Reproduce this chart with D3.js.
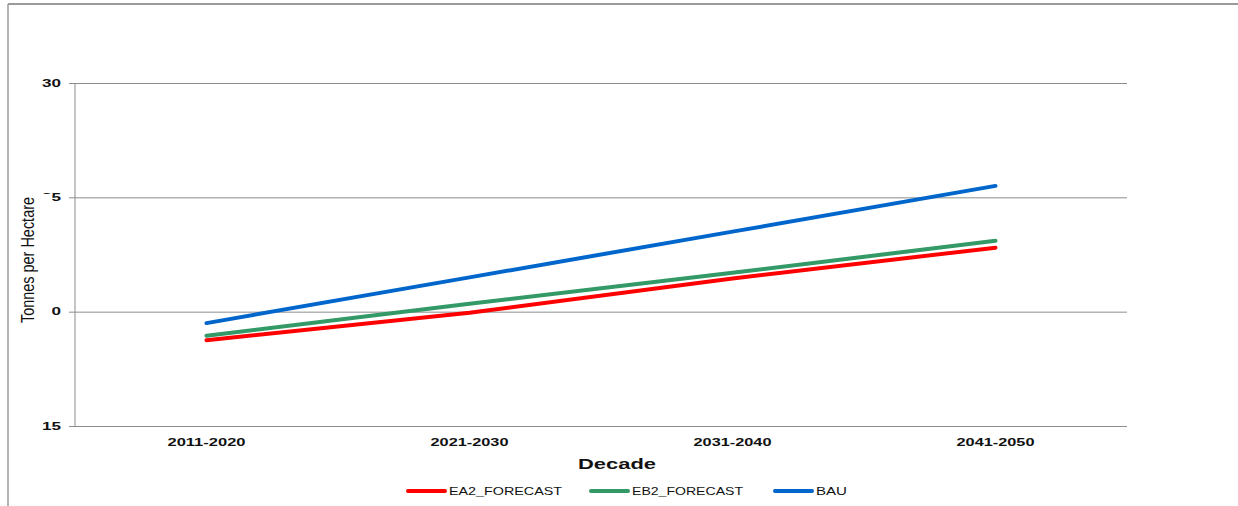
<!DOCTYPE html>
<html>
<head>
<meta charset="utf-8">
<script src="https://cdn.jsdelivr.net/npm/d3@7"></script>
<style>
  html, body { margin: 0; padding: 0; background: #fff; }
  svg { display: block; font-family: "Liberation Sans", Arial, sans-serif; }
</style>
</head>
<body>
<svg id="chart" width="1238" height="506"></svg>
<script>
// Decades on the x axis
const decades = ["2011-2020", "2021-2030", "2031-2040", "2041-2050"];
// Yield forecasts, tonnes per hectare
const ea2Forecast = [18.75, 19.95, 21.45, 22.8];
const eb2Forecast = [18.95, 20.35, 21.7, 23.1];
const bau = [19.5, 21.5, 23.5, 25.5];
// Y axis ticks
const yTicks = [15, 20, 25, 30];

const seriesNames = ["EA2_FORECAST", "EB2_FORECAST", "BAU"];
const seriesValues = [ea2Forecast, eb2Forecast, bau];
const seriesColors = ["#ff0000", "#339966", "#0066cc"];

const svg = d3.select("#chart");
const plot = { left: 75, right: 1127, top: 83, bottom: 426 };

// Outer frame (top and left edges only)
svg.append("line").attr("x1", 8).attr("x2", 1238).attr("y1", 4).attr("y2", 4)
  .attr("stroke", "#9a9a9a").attr("stroke-width", 2);
svg.append("line").attr("x1", 8).attr("x2", 8).attr("y1", 4).attr("y2", 506)
  .attr("stroke", "#9a9a9a").attr("stroke-width", 1.5);

const x = d3.scaleBand().domain(decades).range([plot.left, plot.right]);
const y = d3.scaleLinear().domain([15, 30]).range([plot.bottom, plot.top]);

// Horizontal gridlines with outward tick stubs
const yAxis = svg.append("g")
  .attr("transform", `translate(${plot.left},0)`)
  .call(d3.axisLeft(y).tickValues(yTicks).tickSize(-(plot.right - plot.left)).tickSizeOuter(0).tickPadding(14));
yAxis.select(".domain").remove();
yAxis.selectAll(".tick line").attr("stroke", "#8c8c8c").attr("x1", -6);
yAxis.selectAll(".tick text")
  .attr("font-size", 10).attr("font-weight", "bold").attr("fill", "#111")
  .attr("font-family", "Liberation Sans, Arial, sans-serif")
  .attr("textLength", 19).attr("lengthAdjust", "spacingAndGlyphs");

// Vertical value axis line
svg.append("line").attr("x1", plot.left).attr("x2", plot.left)
  .attr("y1", plot.top).attr("y2", plot.bottom)
  .attr("stroke", "#8c8c8c").attr("stroke-width", 1);

// Category axis labels
const xAxis = svg.append("g")
  .attr("transform", `translate(0,${plot.bottom})`)
  .call(d3.axisBottom(x).tickSize(0).tickPadding(12));
xAxis.select(".domain").remove();
xAxis.selectAll(".tick text")
  .attr("font-size", 11).attr("font-weight", "bold").attr("fill", "#111")
  .attr("font-family", "Liberation Sans, Arial, sans-serif")
  .attr("textLength", 78).attr("lengthAdjust", "spacingAndGlyphs");

// Axis titles
svg.append("text")
  .attr("x", 617).attr("y", 469)
  .attr("text-anchor", "middle")
  .attr("font-size", 15).attr("font-weight", "bold").attr("fill", "#111")
  .attr("textLength", 78).attr("lengthAdjust", "spacingAndGlyphs")
  .text("Decade");

const yTitle = svg.append("g").attr("transform", "translate(34,260) rotate(-90)");
yTitle.append("rect").attr("x", -66).attr("y", -20).attr("width", 132).attr("height", 38).attr("fill", "#fff");
yTitle.append("text")
  .attr("x", 0).attr("y", 0)
  .attr("text-anchor", "middle")
  .attr("font-size", 18).attr("fill", "#111")
  .attr("textLength", 126).attr("lengthAdjust", "spacingAndGlyphs")
  .text("Tonnes per Hectare");

// Series lines
const line = d3.line()
  .x((d, i) => x(decades[i]) + x.bandwidth() / 2)
  .y(d => y(d));

seriesValues.forEach((vals, k) => {
  svg.append("path")
    .datum(vals)
    .attr("d", line)
    .attr("fill", "none")
    .attr("stroke", seriesColors[k])
    .attr("stroke-width", 4)
    .attr("stroke-linecap", "round")
    .attr("stroke-linejoin", "round");
});

// Legend
const legendItems = [
  { x: 408, w: 113 },
  { x: 591, w: 111 },
  { x: 775, w: 31 }
];
const legend = svg.append("g").attr("transform", "translate(0,491)");
seriesNames.forEach((name, k) => {
  const it = legendItems[k];
  legend.append("line")
    .attr("x1", it.x).attr("x2", it.x + 37).attr("y1", 0).attr("y2", 0)
    .attr("stroke", seriesColors[k]).attr("stroke-width", 4).attr("stroke-linecap", "round");
  legend.append("text")
    .attr("x", it.x + 41).attr("y", 4)
    .attr("font-size", 11).attr("fill", "#111")
    .attr("textLength", it.w).attr("lengthAdjust", "spacingAndGlyphs")
    .text(name);
});
</script>
</body>
</html>
